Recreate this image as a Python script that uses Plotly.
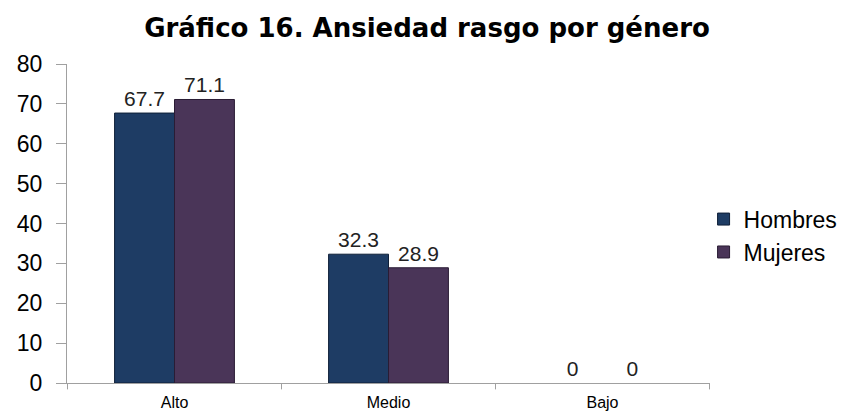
import plotly.graph_objects as go

categories = ["Alto", "Medio", "Bajo"]
hombres = [67.7, 32.3, 0]
mujeres = [71.1, 28.9, 0]
y_ticks = [0, 10, 20, 30, 40, 50, 60, 70, 80]

line_w = [1 if v > 0 else 0 for v in hombres]
line_w2 = [1 if v > 0 else 0 for v in mujeres]

fig = go.Figure()
fig.add_trace(go.Bar(
    name="Hombres", x=categories, y=hombres,
    marker=dict(color="#1e3c64", line=dict(color="#0f1f38", width=line_w)),
    text=[f"{v:g}" for v in hombres], textposition="outside",
    textfont=dict(size=21, color="#222222"), cliponaxis=False,
))
fig.add_trace(go.Bar(
    name="Mujeres", x=categories, y=mujeres,
    marker=dict(color="#4a3558", line=dict(color="#2a1c34", width=line_w2)),
    text=[f"{v:g}" for v in mujeres], textposition="outside",
    textfont=dict(size=21, color="#222222"), cliponaxis=False,
))

# page body has an 8px default margin, so the figure is sized to fit it
fig.update_layout(
    width=846, height=406,
    margin=dict(l=59, r=144, t=56, b=31, autoexpand=False),
    paper_bgcolor="white", plot_bgcolor="white",
    font=dict(family="Liberation Sans, Arial, sans-serif", color="#000000"),
    title=dict(text="<b>Gráfico 16. Ansiedad rasgo por género</b>",
               x=419 / 846, xanchor="center", xref="container",
               y=1 - 20 / 406, yanchor="middle", yref="container",
               font=dict(size=26, color="#000000",
                         family="DejaVu Sans, sans-serif")),
    barmode="group", bargap=0.44, bargroupgap=0,
    showlegend=True,
    legend=dict(x=0.99, y=0.462, xanchor="left", yanchor="middle",
                font=dict(size=23), itemwidth=30, tracegroupgap=4),
    xaxis=dict(showline=True, linecolor="#a0a0a0", linewidth=1,
               ticks="", tickfont=dict(size=16), showgrid=False,
               ticklabelstandoff=5, automargin=False),
    yaxis=dict(range=[0, 80], tickvals=y_ticks, showline=True,
               linecolor="#a0a0a0", linewidth=1, ticks="outside",
               ticklen=10, tickcolor="#a0a0a0", tickfont=dict(size=23),
               ticklabelstandoff=9,
               showgrid=False, zeroline=False, automargin=False),
)

# category separator ticks on the x axis
for xv in [-0.5, 0.5, 1.5, 2.5]:
    fig.add_shape(type="line", xref="x", yref="paper", x0=xv, x1=xv,
                  y0=0, y1=-0.02, line=dict(color="#a0a0a0", width=1))

fig.write_html("out.html")
